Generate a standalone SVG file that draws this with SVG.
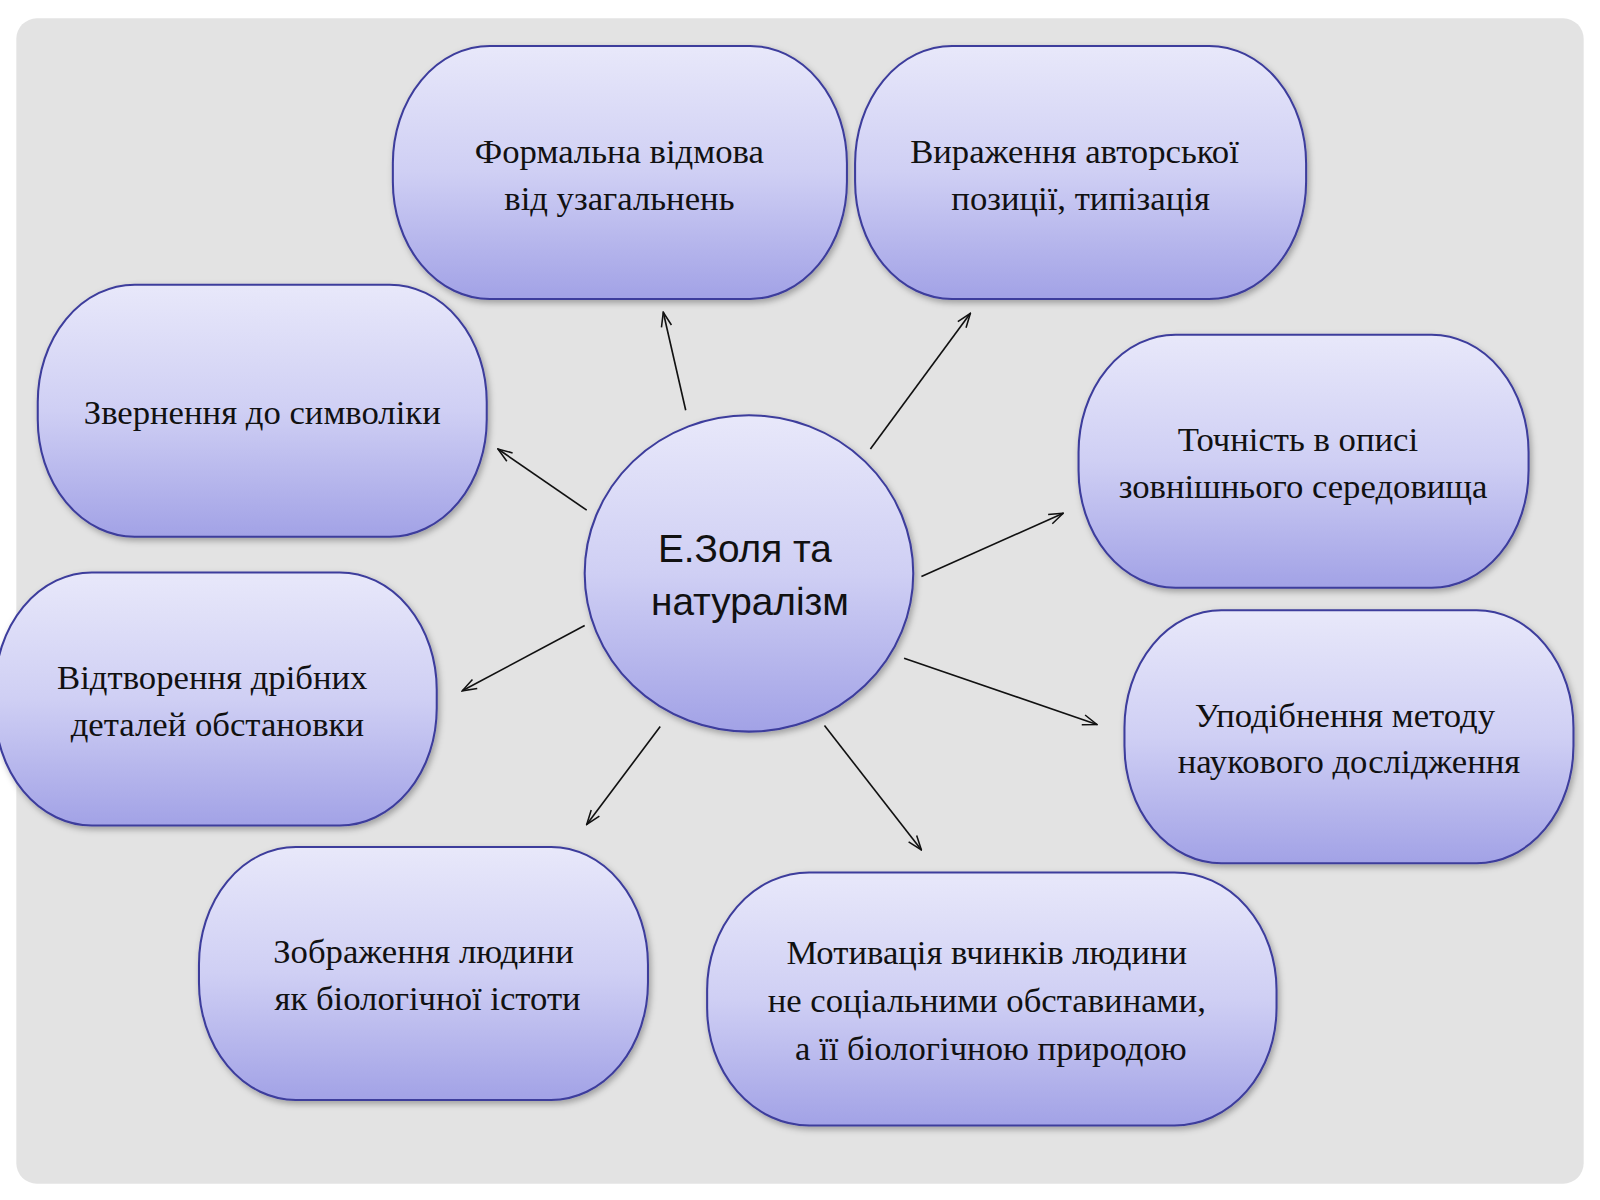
<svg xmlns="http://www.w3.org/2000/svg" width="1600" height="1200" viewBox="0 0 1600 1200">
<defs>
<linearGradient id="g" x1="0" y1="0" x2="0" y2="1"><stop offset="0" stop-color="#e8e8fa"/><stop offset="0.5" stop-color="#cfcff4"/><stop offset="1" stop-color="#a2a2e6"/></linearGradient>
<filter id="sh" x="-10%" y="-10%" width="130%" height="130%"><feDropShadow dx="2" dy="3" stdDeviation="3" flood-color="#000" flood-opacity="0.3"/></filter>
<marker id="a" markerWidth="16" markerHeight="12" refX="15" refY="6" orient="auto" markerUnits="userSpaceOnUse"><path d="M1,1 L15,6 L1,11" fill="none" stroke="#111" stroke-width="1.5"/></marker>
<style>
.n{fill:url(#g);stroke:#3c3c9c;stroke-width:2;filter:url(#sh)}
.t{font-family:"Liberation Serif","DejaVu Serif",serif;font-size:34px;fill:#111;text-anchor:middle}
.c{stroke:#111;stroke-width:1.6;fill:none;marker-end:url(#a)}
</style>
</defs>
<rect width="1600" height="1200" fill="#fff"/>
<g transform="scale(1.0204)">
<rect x="16" y="18" width="1536" height="1142" rx="20" fill="#e3e3e3"/>
<g id="connectors">
<line class="c" x1="672" y1="402" x2="650" y2="306"/>
<line class="c" x1="853" y1="440" x2="951" y2="307"/>
<line class="c" x1="575" y1="500" x2="488" y2="440"/>
<line class="c" x1="903" y1="565" x2="1042" y2="503"/>
<line class="c" x1="573" y1="613" x2="453" y2="677"/>
<line class="c" x1="886" y1="645" x2="1075" y2="710"/>
<line class="c" x1="647" y1="712" x2="575" y2="808"/>
<line class="c" x1="808" y1="711" x2="903" y2="833"/>
</g>
<g id="n1"><rect class="n" x="385" y="45" width="445" height="248" rx="95" ry="115"/><text class="t" x="607" y="160">Формальна відмова</text><text class="t" x="607" y="206">від узагальнень</text></g>
<g id="n2"><rect class="n" x="838" y="45" width="442" height="248" rx="95" ry="115"/><text class="t" x="1053" y="160">Вираження авторської</text><text class="t" x="1059" y="206">позиції, типізація</text></g>
<g id="n3"><rect class="n" x="37" y="279" width="440" height="247" rx="95" ry="115"/><text class="t" x="257" y="416">Звернення до символіки</text></g>
<g id="n4"><rect class="n" x="1057" y="328" width="441" height="248" rx="95" ry="115"/><text class="t" x="1272" y="442">Точність в описі</text><text class="t" x="1277" y="488">зовнішнього середовища</text></g>
<g id="n5"><rect class="n" x="-5" y="561" width="433" height="248" rx="95" ry="115"/><text class="t" x="208" y="675">Відтворення дрібних</text><text class="t" x="213" y="721">деталей обстановки</text></g>
<g id="n6"><rect class="n" x="1102" y="598" width="440" height="248" rx="95" ry="115"/><text class="t" x="1318" y="712">Уподібнення методу</text><text class="t" x="1322" y="758">наукового дослідження</text></g>
<g id="n7"><rect class="n" x="195" y="830" width="440" height="248" rx="95" ry="115"/><text class="t" x="415" y="944">Зображення людини</text><text class="t" x="419" y="990">як біологічної істоти</text></g>
<g id="n8"><rect class="n" x="693" y="855" width="558" height="248" rx="100" ry="115"/><text class="t" x="967" y="945">Мотивація вчинків людини</text><text class="t" x="967" y="992">не соціальними обставинами,</text><text class="t" x="971" y="1039">а її біологічною природою</text></g>
<g id="center"><ellipse class="n" cx="734" cy="562" rx="161" ry="155"/><text class="t" x="730" y="551" style="font-family:'Liberation Sans','DejaVu Sans',sans-serif;font-size:38px">Е.Золя та</text><text class="t" x="735" y="603" style="font-family:'Liberation Sans','DejaVu Sans',sans-serif;font-size:38px">натуралізм</text></g>
</g>
</svg>
